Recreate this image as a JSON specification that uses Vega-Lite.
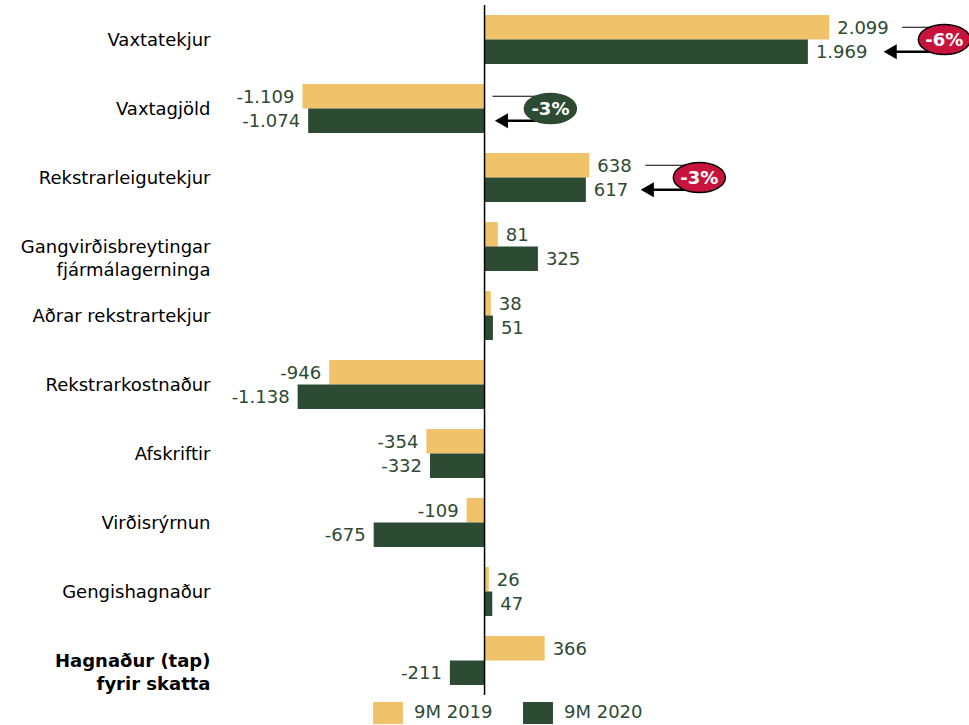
{
  "$schema": "https://vega.github.io/schema/vega-lite/v6.json",
  "width": 739,
  "height": 690,
  "autosize": {"type": "none"},
  "padding": {"left": 230, "top": 5, "right": 0, "bottom": 30},
  "config": {
    "view": {"stroke": null},
    "font": "DejaVu Sans",
    "locale": {"number": {"decimal": ",", "thousands": ".", "grouping": [3], "currency": ["", " kr"], "minus": "-"}}
  },
  "datasets": {
    "bars": [
      {"cat": "Vaxtatekjur", "series": "9M 2019", "value": 2099},
      {"cat": "Vaxtatekjur", "series": "9M 2020", "value": 1969},
      {"cat": "Vaxtagjöld", "series": "9M 2019", "value": -1109},
      {"cat": "Vaxtagjöld", "series": "9M 2020", "value": -1074},
      {"cat": "Rekstrarleigutekjur", "series": "9M 2019", "value": 638},
      {"cat": "Rekstrarleigutekjur", "series": "9M 2020", "value": 617},
      {"cat": "Gangvirðisbreytingar|fjármálagerninga", "series": "9M 2019", "value": 81},
      {"cat": "Gangvirðisbreytingar|fjármálagerninga", "series": "9M 2020", "value": 325},
      {"cat": "Aðrar rekstrartekjur", "series": "9M 2019", "value": 38},
      {"cat": "Aðrar rekstrartekjur", "series": "9M 2020", "value": 51},
      {"cat": "Rekstrarkostnaður", "series": "9M 2019", "value": -946},
      {"cat": "Rekstrarkostnaður", "series": "9M 2020", "value": -1138},
      {"cat": "Afskriftir", "series": "9M 2019", "value": -354},
      {"cat": "Afskriftir", "series": "9M 2020", "value": -332},
      {"cat": "Virðisrýrnun", "series": "9M 2019", "value": -109},
      {"cat": "Virðisrýrnun", "series": "9M 2020", "value": -675},
      {"cat": "Gengishagnaður", "series": "9M 2019", "value": 26},
      {"cat": "Gengishagnaður", "series": "9M 2020", "value": 47},
      {"cat": "Hagnaður (tap)|fyrir skatta", "series": "9M 2019", "value": 366},
      {"cat": "Hagnaður (tap)|fyrir skatta", "series": "9M 2020", "value": -211}
    ],
    "annLines": [
      {"cat": "Vaxtatekjur", "series": "9M 2019", "x": 2543, "x2": 2786},
      {"cat": "Vaxtatekjur", "series": "9M 2020", "x": 2464, "x2": 2786},
      {"cat": "Vaxtagjöld", "series": "9M 2019", "x": 49, "x2": 401},
      {"cat": "Vaxtagjöld", "series": "9M 2020", "x": 97, "x2": 401},
      {"cat": "Rekstrarleigutekjur", "series": "9M 2019", "x": 979, "x2": 1308},
      {"cat": "Rekstrarleigutekjur", "series": "9M 2020", "x": 985, "x2": 1308}
    ],
    "annArrows": [
      {"cat": "Vaxtatekjur", "series": "9M 2020", "x": 2470},
      {"cat": "Vaxtagjöld", "series": "9M 2020", "x": 103},
      {"cat": "Rekstrarleigutekjur", "series": "9M 2020", "x": 991}
    ],
    "ann": [
      {"cat": "Vaxtatekjur", "x": 2800, "label": "-6%", "kind": "down"},
      {"cat": "Vaxtagjöld", "x": 401, "label": "-3%", "kind": "good"},
      {"cat": "Rekstrarleigutekjur", "x": 1308, "label": "-3%", "kind": "down"}
    ]
  },
  "layer": [
    {
      "data": {"name": "bars"},
      "mark": {"type": "bar"},
      "encoding": {
        "y": {
          "field": "cat", "type": "nominal",
          "scale": {"domain": ["Vaxtatekjur", "Vaxtagjöld", "Rekstrarleigutekjur", "Gangvirðisbreytingar|fjármálagerninga", "Aðrar rekstrartekjur", "Rekstrarkostnaður", "Afskriftir", "Virðisrýrnun", "Gengishagnaður", "Hagnaður (tap)|fyrir skatta"], "paddingInner": 0.29, "paddingOuter": 0.145},
          "axis": {
            "title": null, "domain": false, "ticks": false, "labelPadding": 20,
            "labelFontSize": 18, "labelColor": "#000000", "labelFont": "DejaVu Sans",
            "labelLineHeight": 23, "labelLimit": 300, "labelOffset": 1.5,
            "labelExpr": "split(datum.value, '|')",
            "labelFontWeight": {"condition": {"test": "datum.value == 'Hagnaður (tap)|fyrir skatta'", "value": "bold"}, "value": "normal"}
          }
        },
        "yOffset": {"field": "series", "type": "nominal", "scale": {"domain": ["9M 2019", "9M 2020"], "paddingInner": 0, "paddingOuter": 0}},
        "x": {"field": "value", "type": "quantitative", "scale": {"domain": [-1550, 2950], "nice": false, "zero": false}, "axis": null},
        "color": {
          "field": "series", "type": "nominal",
          "scale": {"domain": ["9M 2019", "9M 2020"], "range": ["#F0C36A", "#2D4A33"]},
          "legend": {
            "title": null, "orient": "none", "direction": "horizontal",
            "legendX": 147, "legendY": 697,
            "symbolType": "M-1.36,-1L1.36,-1L1.36,1L-1.36,1Z", "symbolSize": 484,
            "symbolStrokeWidth": 0, "symbolOpacity": 1,
            "labelFontSize": 18, "labelColor": "#2D4A33", "labelFont": "DejaVu Sans",
            "labelOffset": 15, "columnPadding": 30
          }
        }
      }
    },
    {
      "data": {"name": "bars"},
      "transform": [{"filter": "datum.value >= 0"}],
      "mark": {"type": "text", "align": "left", "dx": 8, "dy": 1.5, "fontSize": 18, "color": "#2D4A33", "baseline": "middle"},
      "encoding": {
        "y": {"field": "cat", "type": "nominal"},
        "yOffset": {"field": "series", "type": "nominal"},
        "x": {"field": "value", "type": "quantitative"},
        "text": {"field": "value", "type": "quantitative", "format": ",.0f"}
      }
    },
    {
      "data": {"name": "bars"},
      "transform": [{"filter": "datum.value < 0"}],
      "mark": {"type": "text", "align": "right", "dx": -8, "dy": 1.5, "fontSize": 18, "color": "#2D4A33", "baseline": "middle"},
      "encoding": {
        "y": {"field": "cat", "type": "nominal"},
        "yOffset": {"field": "series", "type": "nominal"},
        "x": {"field": "value", "type": "quantitative"},
        "text": {"field": "value", "type": "quantitative", "format": ",.0f"}
      }
    },
    {
      "data": {"values": [{"z": 0}]},
      "mark": {"type": "rule", "color": "#000000", "strokeWidth": 1.5},
      "encoding": {"x": {"field": "z", "type": "quantitative"}}
    },
    {
      "data": {"name": "annLines"},
      "transform": [{"filter": "datum.series == '9M 2019'"}],
      "mark": {"type": "rule", "color": "#000000", "strokeWidth": 1.2},
      "encoding": {
        "y": {"field": "cat", "type": "nominal"},
        "yOffset": {"field": "series", "type": "nominal"},
        "x": {"field": "x", "type": "quantitative"},
        "x2": {"field": "x2"}
      }
    },
    {
      "data": {"name": "annLines"},
      "transform": [{"filter": "datum.series == '9M 2020'"}],
      "mark": {"type": "rule", "color": "#000000", "strokeWidth": 2.4},
      "encoding": {
        "y": {"field": "cat", "type": "nominal"},
        "yOffset": {"field": "series", "type": "nominal"},
        "x": {"field": "x", "type": "quantitative"},
        "x2": {"field": "x2"}
      }
    },
    {
      "data": {"name": "annArrows"},
      "mark": {"type": "point", "shape": "triangle-left", "filled": true, "color": "#000000", "size": 230, "opacity": 1},
      "encoding": {
        "y": {"field": "cat", "type": "nominal"},
        "yOffset": {"field": "series", "type": "nominal"},
        "x": {"field": "x", "type": "quantitative"}
      }
    },
    {
      "data": {"name": "ann"},
      "mark": {"type": "point", "shape": "M-1,0A1,0.58,0,1,0,1,0A1,0.58,0,1,0,-1,0Z", "filled": true, "size": 2704, "opacity": 1, "strokeWidth": 1.5},
      "encoding": {
        "y": {"field": "cat", "type": "nominal"},
        "x": {"field": "x", "type": "quantitative"},
        "fill": {"field": "kind", "type": "nominal", "scale": {"domain": ["down", "good"], "range": ["#C8143C", "#2D4A33"]}, "legend": null},
        "stroke": {"field": "kind", "type": "nominal", "scale": {"domain": ["down", "good"], "range": ["#000000", "#2D4A33"]}, "legend": null}
      }
    },
    {
      "data": {"name": "ann"},
      "mark": {"type": "text", "fontSize": 18, "fontWeight": "bold", "color": "#FFFFFF", "baseline": "middle", "align": "center", "font": "DejaVu Sans", "dy": 1},
      "encoding": {
        "y": {"field": "cat", "type": "nominal"},
        "x": {"field": "x", "type": "quantitative"},
        "text": {"field": "label"}
      }
    }
  ]
}
